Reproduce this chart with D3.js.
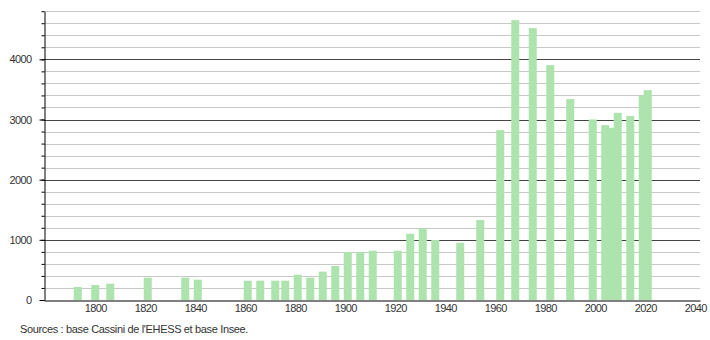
<!DOCTYPE html>
<html>
<head>
<meta charset="utf-8">
<script src="https://cdn.jsdelivr.net/npm/d3@7"></script>
<style>
  body { margin: 0; background: #fff; }
  svg { display: block; font-family: "Liberation Sans", Arial, sans-serif; }
  .axis text { fill: #333; font-size: 11px; letter-spacing: -0.6px; }
</style>
</head>
<body>
<svg width="710" height="340"></svg>
<script>
const years = [1793, 1800, 1806, 1821, 1836, 1841, 1861, 1866, 1872, 1876,
  1881, 1886, 1891, 1896, 1901, 1906, 1911, 1921, 1926, 1931,
  1936, 1946, 1954, 1962, 1968, 1975, 1982, 1990, 1999, 2004,
  2007, 2009, 2014, 2019, 2021];
const population = [216, 249, 271, 371, 371, 338, 321, 321, 321, 321,
  421, 371, 471, 565, 797, 797, 819, 819, 1102, 1190,
  997, 952, 1329, 2824, 4651, 4518, 3904, 3339, 3001, 2907,
  2862, 3111, 3057, 3394, 3488];
const xTicks = [1800, 1820, 1840, 1860, 1880, 1900, 1920, 1940, 1960, 1980, 2000, 2020, 2040];
const yTicks = [0, 1000, 2000, 3000, 4000];
const yMinorTicks = d3.range(0, 4801, 200);
const source = "Sources : base Cassini de l'EHESS et base Insee.";

const data = years.map((d, i) => ({year: d, value: population[i]}));

const svg = d3.select('svg');

const x = d3.scaleLinear()
  .domain([1779.5, 2041.9])
  .range([44, 700]);

const y = d3.scaleLinear()
  .domain([0, 4800])
  .range([300, 11.2]);

// grid lines, darker every 1000
svg.append('g')
  .selectAll('line')
  .data(yMinorTicks.filter(d => d > 0))
  .enter().append('line')
    .attr('x1', 44)
    .attr('x2', 700)
    .attr('y1', d => Math.round(y(d)) + 0.5)
    .attr('y2', d => Math.round(y(d)) + 0.5)
    .attr('stroke', d => d % 1000 === 0 ? '#444' : '#c8c8c8')
    .attr('stroke-width', 1);

const barWidth = 8;

svg.append('g')
  .selectAll('rect')
  .data(data)
  .enter().append('rect')
    .attr('x', d => x(d.year) - barWidth / 2)
    .attr('y', d => y(d.value))
    .attr('width', barWidth)
    .attr('height', d => y(0) - y(d.value))
    .attr('fill', '#ade3ad');

// minor ticks on y
svg.append('g')
  .attr('class', 'axis')
  .attr('transform', 'translate(44.5, 0)')
  .call(d3.axisLeft(y).tickValues(yMinorTicks).tickSize(3).tickFormat(''))
  .call(g => g.select('.domain').remove());

svg.append('g')
  .attr('class', 'axis')
  .attr('transform', 'translate(44.5, 0)')
  .call(d3.axisLeft(y).tickValues(yTicks).tickSize(5).tickSizeOuter(0).tickPadding(8).tickFormat(d3.format('d')));

svg.append('g')
  .attr('class', 'axis')
  .attr('transform', 'translate(0, 300.5)')
  .call(d3.axisBottom(x).tickValues(xTicks).tickSize(0).tickPadding(4).tickFormat(d3.format('d')));

svg.selectAll('.axis .domain, .axis line').attr('stroke', '#000');

svg.append('text')
  .attr('x', 20)
  .attr('y', 333)
  .attr('font-size', 11)
  .attr('letter-spacing', '-0.35px')
  .attr('fill', '#333')
  .text(source);
</script>
</body>
</html>
